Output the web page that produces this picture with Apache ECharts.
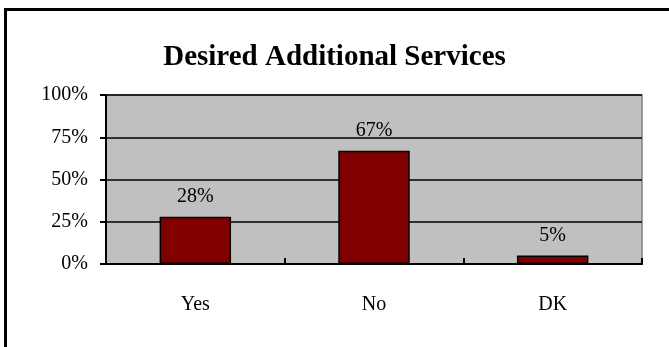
<!DOCTYPE html>
<html>
<head>
<meta charset="utf-8">
<script src="https://cdn.jsdelivr.net/npm/echarts@6/dist/echarts.min.js"></script>
<style>
  html, body { margin: 0; padding: 0; background: #ffffff; }
  #chart { width: 669px; height: 347px; }
</style>
</head>
<body>
<div id="chart"></div>
<script>
// Survey answers and their shares (percent)
const categories = ['Yes', 'No', 'DK'];
const shares = [28, 67, 5];
const yTicks = [0, 25, 50, 75, 100];

const serif = '"Liberation Serif", "Times New Roman", serif';
const chart = echarts.init(document.getElementById('chart'), null, { renderer: 'canvas' });

chart.setOption({
  backgroundColor: '#ffffff',
  animation: false,
  title: {
    text: 'Desired Additional Services',
    left: 'center',
    top: 38,
    textStyle: { fontFamily: serif, fontSize: 29, fontWeight: 'bold', color: '#000000' }
  },
  graphic: [
    // frame around the chart (top and left edges)
    { type: 'polyline', shape: { points: [[5.5, 400], [5.5, 9.5], [700, 9.5]] },
      style: { stroke: '#000000', lineWidth: 3, fill: null }, z: 100 }
  ],
  grid: {
    left: 106, right: 27, top: 95, bottom: 83,
    show: true, backgroundColor: '#C0C0C0', borderColor: '#808080', borderWidth: 1.5
  },
  xAxis: {
    type: 'category',
    data: categories,
    axisLine: { lineStyle: { color: '#000000', width: 2 } },
    axisTick: { show: true, inside: true, length: 6, alignWithLabel: false,
                lineStyle: { color: '#000000', width: 2 } },
    axisLabel: { margin: 31, fontFamily: serif, fontSize: 20, color: '#000000' }
  },
  yAxis: {
    type: 'value',
    min: yTicks[0],
    max: yTicks[yTicks.length - 1],
    interval: 25,
    axisLine: { show: true, lineStyle: { color: '#000000', width: 2 } },
    axisTick: { show: true, inside: false, length: 6, lineStyle: { color: '#000000', width: 2 } },
    axisLabel: { margin: 18, fontFamily: serif, fontSize: 20, color: '#000000',
                 formatter: '{value}%' },
    splitLine: { show: true, lineStyle: { color: '#000000', width: 1.5 } }
  },
  series: [{
    type: 'bar',
    data: shares,
    barWidth: '40%',
    itemStyle: { color: '#800000', borderColor: '#000000', borderWidth: 1.5 },
    label: {
      show: true, position: 'top', distance: 10,
      fontFamily: serif, fontSize: 20, color: '#000000',
      formatter: p => p.value + '%'
    }
  }]
});
</script>
</body>
</html>
